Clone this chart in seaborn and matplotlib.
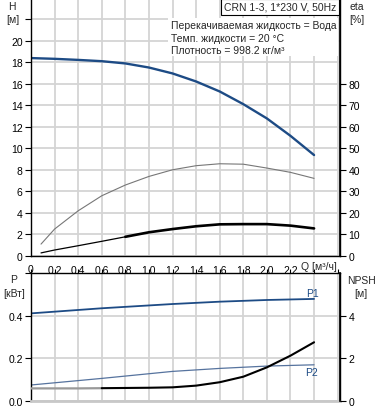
import numpy as np
import matplotlib
matplotlib.use("Agg")
import matplotlib.pyplot as plt
import seaborn as sns

# pump curve data
q_h = [0, 0.2, 0.4, 0.6, 0.8, 1.0, 1.2, 1.4, 1.6, 1.8, 2.0, 2.2, 2.4]
head = [18.4, 18.33, 18.23, 18.11, 17.9, 17.52, 16.97, 16.22, 15.29, 14.11, 12.78, 11.16, 9.37]

q_eta = [0.085, 0.2, 0.4, 0.6, 0.8, 1.0, 1.2, 1.4, 1.6, 1.8, 2.0, 2.2, 2.4]
eta_pump = [5.4, 12.4, 20.9, 27.9, 32.9, 36.9, 40.0, 41.9, 42.8, 42.6, 40.8, 38.8, 36.0]
eta_total = [1.3, 2.65, 4.65, 6.7, 8.8, 10.9, 12.4, 13.7, 14.6, 14.7, 14.7, 14.0, 12.7]

q_p = [0, 0.6, 1.2, 1.6, 2.0, 2.4]
p1 = [0.411, 0.435, 0.455, 0.466, 0.474, 0.479]
p2 = [0.074, 0.105, 0.138, 0.152, 0.163, 0.169]

q_npsh = [0, 0.2, 0.4, 0.6, 0.8, 1.0, 1.2, 1.4, 1.6, 1.8, 2.0, 2.2, 2.4]
npsh = [0.58, 0.58, 0.58, 0.59, 0.6, 0.61, 0.63, 0.71, 0.87, 1.13, 1.57, 2.12, 2.75]

xticks = [0, 0.2, 0.4, 0.6, 0.8, 1.0, 1.2, 1.4, 1.6, 1.8, 2.0, 2.2, 2.4, 2.6]
xlabels = ["0", "0,2", "0,4", "0,6", "0,8", "1,0", "1,2", "1,4", "1,6", "1,8", "2,0", "2,2", "", ""]

title = "CRN 1-3, 1*230 V, 50Hz"
info = ["Перекачиваемая жидкость = Вода", "Темп. жидкости = 20 °C", "Плотность = 998.2 кг/м³"]

sns.set_theme(style="white")
plt.rcParams["font.family"] = ["Liberation Sans", "DejaVu Sans"]
plt.rcParams["font.size"] = 7.5

BLUE = "#1d4b85"
GRID = "#d4d4d4"
XMAX = 2.62

fig = plt.figure(figsize=(3.78, 4.10), dpi=100)
ax1 = fig.add_axes([0.082, 0.3739, 0.8175, 0.6261])
ax2 = fig.add_axes([0.082, 0.0202, 0.8175, 0.311])


def style(ax, ymax, ystep):
    ax.set_xlim(0, XMAX)
    ax.set_ylim(0, ymax)
    ax.set_xticks(xticks)
    ax.set_yticks(np.arange(0, ymax + 1e-9, ystep))
    ax.grid(True, color=GRID, lw=1.3)
    ax.set_axisbelow(True)
    for s in ax.spines.values():
        s.set_color("black")
        s.set_linewidth(1.0)
    ax.tick_params(axis="both", direction="out", length=4, width=0.8,
                   colors="black", labelsize=7.5, pad=2)


def right_axis(ax, ymax, ticks):
    r = ax.twinx()
    r.set_ylim(0, ymax)
    r.set_yticks(ticks)
    r.tick_params(axis="y", direction="out", length=4, width=0.8,
                  colors="black", labelsize=7.5, pad=2)
    for s in r.spines.values():
        s.set_visible(False)
    r.spines["right"].set_visible(True)
    r.spines["right"].set_color("black")
    r.grid(False)
    return r


# top panel: head + efficiency
style(ax1, 23.9, 2)
ax1.spines["top"].set_visible(False)
ax1.set_yticks(range(0, 23, 2))
ax1.set_yticklabels([str(v) if v <= 20 else "" for v in range(0, 23, 2)])
ax1.set_xticklabels(xlabels)
sns.lineplot(x=q_h, y=head, ax=ax1, color=BLUE, lw=1.7)

ax1r = right_axis(ax1, 23.9 * 5, range(0, 81, 10))
sns.lineplot(x=q_eta, y=eta_pump, ax=ax1r, color="#777777", lw=0.8)
sns.lineplot(x=q_eta[:5], y=eta_total[:5], ax=ax1r, color="black", lw=0.9)
sns.lineplot(x=q_eta[4:], y=eta_total[4:], ax=ax1r, color="black", lw=1.9)
ax1r.set_ylabel("")

# bottom panel: power + NPSH
style(ax2, 0.6, 0.2)
ax2.set_yticklabels(["0.0", "0.2", "0.4", ""])
ax2.xaxis.set_ticks_position("top")
ax2.tick_params(axis="x", labeltop=False, labelbottom=False, length=3)
ax2.spines["bottom"].set_color("#c8c8c8")
ax2.spines["bottom"].set_linewidth(2)
sns.lineplot(x=q_p, y=p1, ax=ax2, color=BLUE, lw=1.3)
sns.lineplot(x=q_p, y=p2, ax=ax2, color="#56739e", lw=0.9)
ax2.set_ylabel("")

ax2r = right_axis(ax2, 6, [0, 2, 4])
sns.lineplot(x=q_npsh[:4], y=npsh[:4], ax=ax2r, color="#999999", lw=1.6, zorder=4)
sns.lineplot(x=q_npsh[3:], y=npsh[3:], ax=ax2r, color="black", lw=1.5, zorder=4)
ax2r.set_ylabel("")

ax2.text(2.39, 0.509, "P1", color=BLUE, fontsize=7.5, ha="center", va="center")
ax2.text(2.38, 0.135, "P2", color=BLUE, fontsize=7.5, ha="center", va="center")

# axis captions
fig.text(12 / 378, 1 - 7 / 410, "H", ha="center", va="center", fontsize=7.5)
fig.text(13 / 378, 1 - 20 / 410, "[м]", ha="center", va="center", fontsize=7.5)
fig.text(357 / 378, 1 - 7 / 410, "eta", ha="center", va="center", fontsize=7.5)
fig.text(357 / 378, 1 - 20 / 410, "[%]", ha="center", va="center", fontsize=7.5)
fig.text(14 / 378, 1 - 280 / 410, "P", ha="center", va="center", fontsize=7.5)
fig.text(14 / 378, 1 - 294 / 410, "[кВт]", ha="center", va="center", fontsize=7.5)
fig.text(361 / 378, 1 - 281 / 410, "NPSH", ha="center", va="center", fontsize=7.5)
fig.text(361 / 378, 1 - 294 / 410, "[м]", ha="center", va="center", fontsize=7.5)
fig.text(319 / 378, 1 - 267 / 410, "Q [м³/ч]", ha="center", va="center", fontsize=7.5)

# info boxes
fig.text(336 / 378, 1 - 8 / 410, title, ha="right", va="center", fontsize=7.5,
         bbox=dict(boxstyle="square,pad=0.25", fc="white", ec="black", lw=0.8))
fig.patches.append(plt.Rectangle((168 / 378, 1 - 57 / 410), 170 / 378, 38 / 410,
                                 transform=fig.transFigure, fc="white", ec="none", zorder=5))
for i, line in enumerate(info):
    fig.text(171 / 378, 1 - (26 + 12.5 * i) / 410, line, ha="left", va="center",
             fontsize=7.5, zorder=6)

fig.savefig("out.png", dpi=100)
